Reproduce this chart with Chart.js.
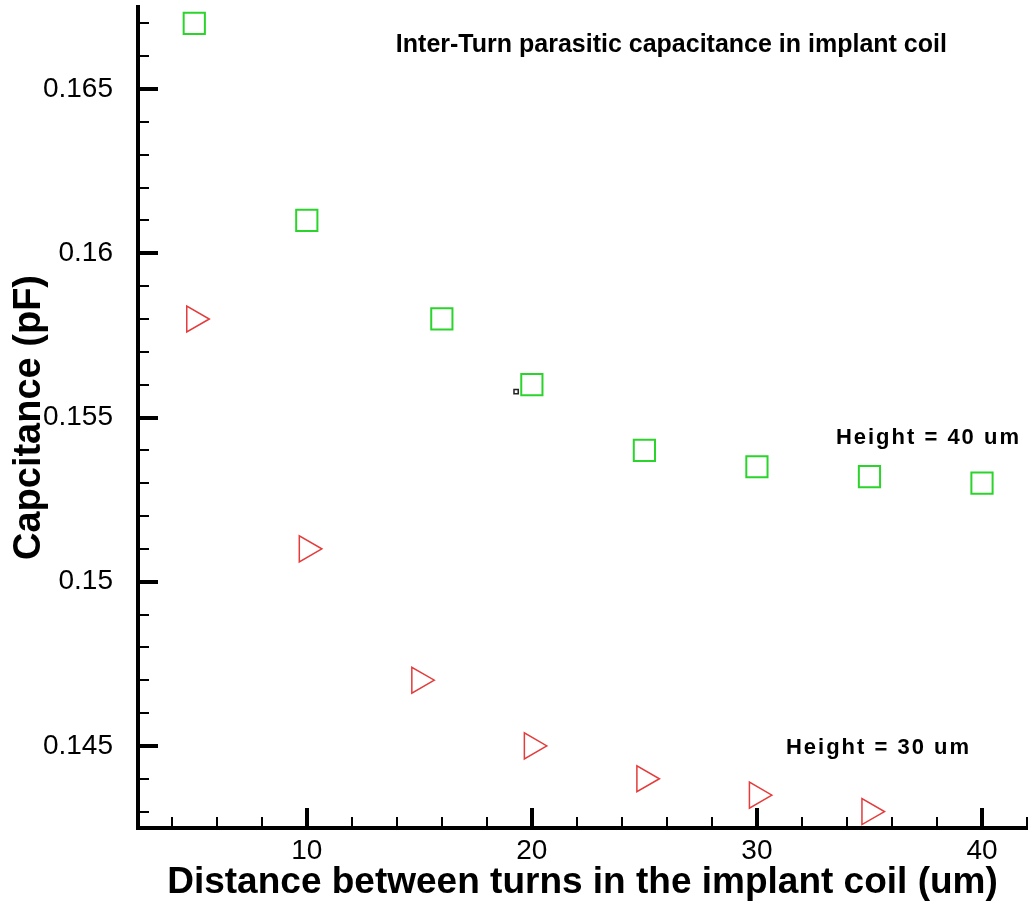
<!DOCTYPE html>
<html>
<head>
<meta charset="utf-8">
<script src="https://cdn.jsdelivr.net/npm/chart.js@4"></script>
<style>
  html, body { margin: 0; padding: 0; background: #fff; }
  #chart { display: block; }
</style>
</head>
<body>
<canvas id="chart" width="1029" height="906"></canvas>
<script>
// distance between turns (um)
const distH40 = [5, 10, 16, 20, 25, 30, 35, 40];
const capH40 = [0.167, 0.161, 0.158, 0.156, 0.154, 0.1535, 0.1532, 0.153];

const distH30 = [5, 10, 15, 20, 25, 30, 35];
const capH30 = [0.158, 0.151, 0.147, 0.145, 0.144, 0.1435, 0.143];

// little stray marker left of the 20 um square
const strayX = [19.3];
const strayY = [0.15579];

const xTicks = [10, 20, 30, 40];
const yTicks = [0.145, 0.15, 0.155, 0.16, 0.165];

const labels = [
  { text: "Inter-Turn parasitic capacitance in implant coil", x: 26.2, y: 0.16634, size: 25, spacing: 0 },
  { text: "Height = 40 um", x: 37.62, y: 0.15439, size: 22, spacing: 2 },
  { text: "Height = 30 um", x: 35.4, y: 0.14494, size: 22, spacing: 2 }
];

function toPts(xs, ys) {
  return xs.map((x, i) => ({ x: x, y: ys[i] }));
}

// ticks inside the plot, like the original
const innerTicks = {
  id: "innerTicks",
  afterDraw(chart) {
    const ctx = chart.ctx;
    const xs = chart.scales.x;
    const ys = chart.scales.y;
    const area = chart.chartArea;
    ctx.save();
    ctx.strokeStyle = "#000";
    for (let v = 4; v <= 42; v += 2) {
      const major = v % 10 === 0;
      const px = Math.round(xs.getPixelForValue(v));
      ctx.lineWidth = major ? 4 : 2;
      ctx.beginPath();
      ctx.moveTo(px, area.bottom);
      ctx.lineTo(px, area.bottom - (major ? 20 : 11));
      ctx.stroke();
    }
    for (let k = 143; k <= 167; k++) {
      const major = k % 5 === 0;
      const py = Math.round(ys.getPixelForValue(k / 1000));
      ctx.lineWidth = major ? 4 : 2;
      ctx.beginPath();
      ctx.moveTo(area.left, py);
      ctx.lineTo(area.left + (major ? 20 : 11), py);
      ctx.stroke();
    }
    ctx.fillStyle = "#000";
    ctx.textAlign = "center";
    ctx.textBaseline = "middle";
    labels.forEach(l => {
      ctx.font = "bold " + l.size + "px 'Liberation Sans', Arial, sans-serif";
      ctx.letterSpacing = l.spacing + "px";
      ctx.fillText(l.text, xs.getPixelForValue(l.x), ys.getPixelForValue(l.y));
    });
    ctx.restore();
  }
};

new Chart(document.getElementById("chart"), {
  type: "scatter",
  data: {
    datasets: [{
      label: "Height = 40 um",
      data: toPts(distH40, capH40),
      pointStyle: "rect",
      pointRadius: 15,
      pointHoverRadius: 15,
      borderColor: "#2bd42b",
      backgroundColor: "rgba(0,0,0,0)",
      pointBorderWidth: 2,
      clip: false
    }, {
      label: "Height = 30 um",
      data: toPts(distH30, capH30),
      pointStyle: "triangle",
      rotation: 90,
      pointRadius: 15,
      pointHoverRadius: 15,
      borderColor: "#e43b3b",
      backgroundColor: "rgba(0,0,0,0)",
      pointBorderWidth: 1.5,
      clip: false
    }, {
      label: "stray",
      data: toPts(strayX, strayY),
      pointStyle: "rect",
      pointRadius: 3,
      borderColor: "#222",
      backgroundColor: "#fff",
      pointBorderWidth: 1.5,
      clip: false
    }]
  },
  options: {
    responsive: false,
    animation: false,
    layout: { autoPadding: false, padding: { top: 7, right: 2, left: 0, bottom: 0 } },
    plugins: {
      legend: { display: false },
      tooltip: { enabled: false }
    },
    scales: {
      x: {
        type: "linear",
        min: 2.5,
        max: 42,
        afterFit(scale) {
          scale.height = 78;
          scale.paddingLeft = 0;
          scale.paddingRight = 0;
        },
        afterBuildTicks(scale) { scale.ticks = xTicks.map(v => ({ value: v })); },
        grid: { display: true, drawOnChartArea: false, drawTicks: false },
        border: { display: true, color: "#000", width: 4 },
        ticks: {
          padding: 6,
          color: "#000",
          font: { family: "'Liberation Sans', Arial, sans-serif", size: 28 }
        },
        title: {
          display: true,
          text: "Distance between turns in the implant coil (um)",
          color: "#000",
          padding: { top: 0, bottom: 1 },
          font: { family: "'Liberation Sans', Arial, sans-serif", size: 37, weight: "bold" }
        }
      },
      y: {
        type: "linear",
        min: 0.1425,
        max: 0.1675,
        afterFit(scale) {
          scale.width = 138;
          scale.paddingTop = 0;
          scale.paddingBottom = 0;
        },
        afterBuildTicks(scale) { scale.ticks = yTicks.map(v => ({ value: v })); },
        grid: { display: true, drawOnChartArea: false, drawTicks: false },
        border: { display: true, color: "#000", width: 4 },
        ticks: {
          padding: 25,
          color: "#000",
          callback: v => String(v),
          font: { family: "'Liberation Sans', Arial, sans-serif", size: 28 }
        },
        title: {
          display: true,
          text: "Capcitance (pF)",
          color: "#000",
          padding: { top: 7, bottom: 0 },
          font: { family: "'Liberation Sans', Arial, sans-serif", size: 38, weight: "bold" }
        }
      }
    }
  },
  plugins: [innerTicks]
});
</script>
</body>
</html>
